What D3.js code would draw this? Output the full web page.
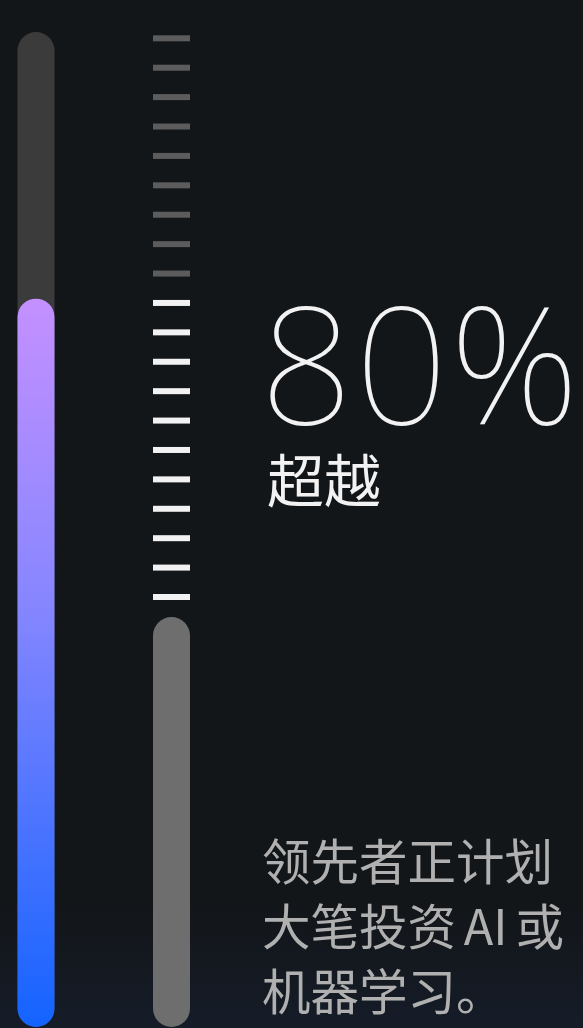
<!DOCTYPE html>
<html>
<head>
<meta charset="utf-8">
<script src="https://cdn.jsdelivr.net/npm/d3@7"></script>
<style>
html,body{margin:0;padding:0;background:#131619;}
svg{display:block;}
</style>
</head>
<body>
<svg id="chart" width="583" height="1028"></svg>
<script>
// ---- data ----
const headline = ["80%"];
const categories = ["超越"];
const barValues = [73.2];          // share of the left track that is filled
const tickTotal = [20];            // ticks in the right column
const tickActive = [11];           // highlighted ticks
const lowerPillShare = [41.2];     // share of the right column taken by the lower pill
const noteLines = ["领先者正计划", "大笔投资 AI 或", "机器学习。"];

// ---- layout ----
const W = 583, H = 1028;
const svg = d3.select("#chart");
const defs = svg.append("defs");

const bg = defs.append("linearGradient").attr("id","bg").attr("x1",0).attr("y1",0).attr("x2",0).attr("y2",1);
bg.append("stop").attr("offset","0%").attr("stop-color","#131619");
bg.append("stop").attr("offset","88%").attr("stop-color","#131619");
bg.append("stop").attr("offset","100%").attr("stop-color","#151c28");
svg.append("rect").attr("width",W).attr("height",H).attr("fill","url(#bg)");

const fillG = defs.append("linearGradient").attr("id","fillG")
  .attr("gradientUnits","userSpaceOnUse").attr("x1",0).attr("y1",299).attr("x2",0).attr("y2",1027);
fillG.append("stop").attr("offset","0%").attr("stop-color","#c490ff");
fillG.append("stop").attr("offset","42%").attr("stop-color","#8686ff");
fillG.append("stop").attr("offset","100%").attr("stop-color","#1463ff");

const y = d3.scaleLinear().domain([0,100]).range([1027, 32]);
const barW = 37;
const x1 = 17.5, x2 = 153;

// left track
svg.append("rect").attr("x",x1).attr("y",y(100)).attr("width",barW)
  .attr("height",y(0)-y(100)).attr("rx",barW/2).attr("fill","#3b3b3b");
// left fill
svg.selectAll("rect.fill").data(barValues).join("rect").attr("class","fill")
  .attr("x",x1).attr("y",d=>y(d)).attr("width",barW)
  .attr("height",d=>y(0)-y(d)).attr("rx",barW/2).attr("fill","url(#fillG)");

// right ticks
const tickY = d3.scalePoint().domain(d3.range(tickTotal[0])).range([38.3, 597]);
svg.selectAll("rect.tick").data(d3.range(tickTotal[0])).join("rect").attr("class","tick")
  .attr("x",x2).attr("y",d=>tickY(d)-3).attr("width",barW).attr("height",6)
  .attr("fill",d=> d >= tickTotal[0]-tickActive[0] ? "#f2f2f2" : "#5c5c5c");

// right lower pill
svg.selectAll("rect.pill").data(lowerPillShare).join("rect").attr("class","pill")
  .attr("x",x2).attr("y",d=>y(d)).attr("width",barW)
  .attr("height",d=>y(0)-y(d)).attr("rx",barW/2).attr("fill","#6e6e6e");

// headline
svg.append("text").text(headline[0]).attr("x",260).attr("y",424)
  .attr("fill","#f2f2f2").attr("font-family","'Noto Sans', sans-serif")
  .attr("font-weight",100).attr("font-size",163).attr("letter-spacing",2);

svg.append("text").text(categories[0]).attr("x",267).attr("y",502)
  .attr("fill","#f2f2f2").attr("font-family","'Noto Sans CJK SC', sans-serif")
  .attr("font-weight",400).attr("font-size",57);

svg.selectAll("text.note").data(noteLines).join("text").attr("class","note")
  .text(d=>d).attr("x",262).attr("y",(d,i)=>880+i*65)
  .attr("fill","#b0b0b0").attr("font-family","'Noto Sans CJK SC', sans-serif")
  .attr("font-weight",400).attr("font-size",48.5).attr("word-spacing",-3);
</script>
</body>
</html>
